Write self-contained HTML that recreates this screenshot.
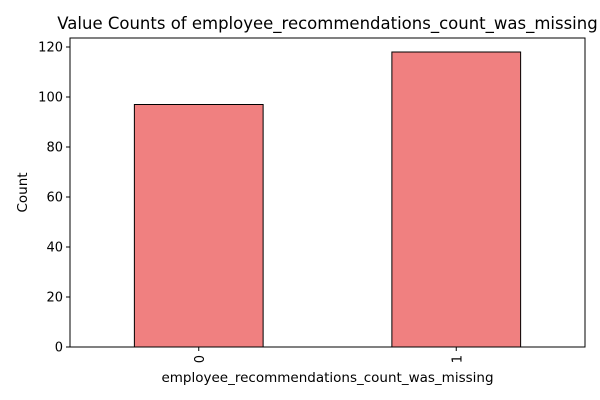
<!DOCTYPE html>
<html><head><meta charset="utf-8"><style>
body{margin:0;background:#fff;}
svg{display:block;font-family:"DejaVu Sans","Liberation Sans",sans-serif;}
</style></head><body>
<svg id="chart" width="600" height="400" viewBox="0 0 600 400">
<rect width="600" height="400" fill="#fff"/>
<text x="327.5" y="29" text-anchor="middle" font-size="16.5" fill="#000">Value Counts of employee_recommendations_count_was_missing</text>
<g id="bars"></g>
<g id="yticks"></g>
<g id="xticks"></g>
<rect x="70" y="38" width="515" height="309" fill="none" stroke="#000" stroke-width="1"/>
<text x="327.5" y="382" text-anchor="middle" font-size="13.5">employee_recommendations_count_was_missing</text>
<text x="27" y="192.5" text-anchor="middle" font-size="13.5" transform="rotate(-90 27 192.5)">Count</text>
</svg>
<script>
const categories = ["0","1"];
const counts = [97, 118];
const yTicks = [0,20,40,60,80,100,120];
const NS="http://www.w3.org/2000/svg";
const L=70,R=585,T=38,B=347;
function xScale(i){return L+(i+0.5)*(R-L)/2;}
function yScale(v){return B-v*(B-47)/120;}
const bw=0.5*(R-L)/2;
const bars=document.getElementById('bars'),yt=document.getElementById('yticks'),xt=document.getElementById('xticks');
function mk(tag,attrs){const e=document.createElementNS(NS,tag);for(const k in attrs)e.setAttribute(k,attrs[k]);return e;}
categories.forEach((c,i)=>{
  const r=mk('rect',{x:xScale(i)-bw/2,y:yScale(counts[i]),width:bw,height:yScale(0)-yScale(counts[i]),fill:'#f08080',stroke:'#000','stroke-width':1});
  
  
  bars.appendChild(r);
  const tk=mk('line',{x1:xScale(i),x2:xScale(i),y1:B,y2:B+4,stroke:'#000'});
  
  
  xt.appendChild(tk);
  const x=xScale(i)+5,y=B+8;
  const t=mk('text',{x:x,y:y,'font-size':13,'text-anchor':'end',transform:`rotate(-90 ${x} ${y})`});
  t.textContent=c;
  
  
  xt.appendChild(t);
});
yTicks.forEach(v=>{
  const y=yScale(v);
  const tk=mk('line',{x1:L-4,x2:L,y1:y,y2:y,stroke:'#000'});
  
  
  yt.appendChild(tk);
  const t=mk('text',{x:L-7,y:y+4.5,'font-size':13,'text-anchor':'end'});
  t.textContent=v;
  
  
  yt.appendChild(t);
});
</script>
</body></html>
